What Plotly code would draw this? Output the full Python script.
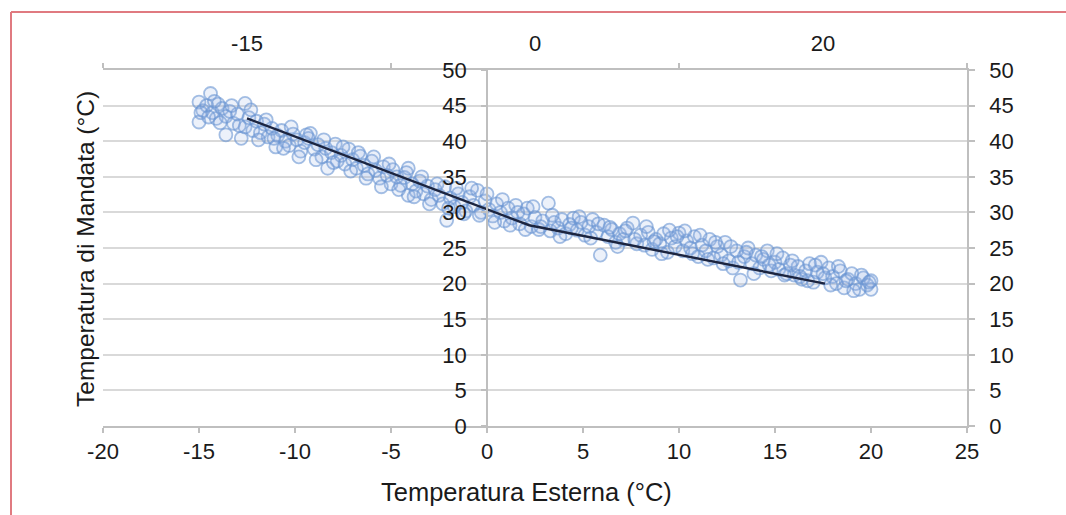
import plotly.graph_objects as go

# Scatter data (outdoor temperature vs supply temperature)
x_pts = [-15.0,-15.0,-14.8,-14.6,-14.4,-14.3,-14.1,-14.0,-13.8,-13.6,-13.6,-13.4,-13.2,-13.0,-12.8,-12.6,-12.6,-12.4,-12.2,
         -12.0,-11.8,-11.6,-11.4,-11.2,-11.0,-10.9,-10.7,-10.5,-10.3,-10.1,-9.9,-9.7,-9.5,-9.3,-9.2,-9.0,-8.8,-8.6,-8.4,-8.3,-8.1,-7.9,-7.8,
         -7.6,-7.4,-7.2,-7.0,-6.8,-6.6,-6.4,-6.2,-6.0,-5.8,-5.6,-5.4,-5.2,-5.0,-4.9,-4.7,-4.5,-4.3,-4.1,-4.1,-3.9,
         -3.7,-3.5,-3.3,-3.1,-2.9,-2.7,-2.5,-2.3,-2.2,-2.1,-1.9,-1.7,-1.5,-1.3,-1.1,-0.9,-0.7,-0.5,-0.3,-0.1,0.1,
         0.3,0.5,0.7,0.9,1.1,1.3,1.5,1.7,1.9,2.1,2.3,2.5,2.7,2.9,3.2,3.3,
         3.5,3.7,3.9,4.1,4.3,4.5,4.7,4.9,5.1,5.3,5.5,5.7,5.9,6.1,6.3,6.5,6.7,6.9,7.1,7.3,7.6,7.8,
         8.0,8.2,8.4,8.6,8.8,9.0,9.2,9.4,9.6,9.8,10.0,10.2,10.4,10.6,10.8,11.0,11.2,11.4,11.6,11.8,
         12.0,12.2,12.4,12.6,12.8,13.0,13.2,13.4,13.6,13.8,14.0,14.2,14.4,14.6,14.8,15.0,15.2,15.4,15.6,15.8,
         16.0,16.2,16.4,16.6,16.8,17.0,17.2,17.4,17.6,17.8,18.0,18.2,18.4,18.6,18.8,19.0,19.2,19.4,19.6,19.8,20.0,20.0,
         -14.9,-14.5,-14.2,-13.9,-13.3,-12.9,-12.3,-11.9,-11.5,-11.1,-10.6,-10.2,-9.8,-9.4,-8.9,-8.5,-8.0,-7.5,-7.1,-6.7,
         -6.3,-5.9,-5.5,-5.1,-4.6,-4.2,-3.8,-3.4,-3.0,-2.6,-2.0,-1.6,-1.2,-0.8,-0.4,0.0,0.4,0.8,1.2,1.6,
         2.0,2.4,2.8,3.4,3.8,4.4,4.8,5.4,5.8,6.4,6.8,7.2,7.7,8.3,8.7,9.1,9.5,9.9,10.3,10.7,
         11.1,11.5,11.9,12.3,12.7,13.1,13.5,13.9,14.3,14.7,15.1,15.5,15.9,16.3,16.7,17.1,17.5,17.9,18.3,18.7,
         19.1,19.5,19.9]
y_pts = [45.5,42.7,44.3,45.0,46.7,44.0,43.2,45.2,44.6,43.5,40.9,44.2,42.5,43.8,40.4,45.3,42.0,43.3,41.5,
         42.8,41.2,42.4,40.6,41.8,39.2,40.8,41.5,40.0,39.4,41.0,40.2,38.6,39.8,40.4,41.1,38.9,39.5,37.8,39.0,36.2,38.4,39.6,37.2,
         38.0,36.8,38.9,37.4,36.2,37.9,36.6,35.4,37.2,35.9,34.8,36.4,35.2,34.0,36.0,35.0,33.8,34.9,36.2,32.4,34.0,
         33.0,34.4,32.6,33.7,31.8,33.2,32.4,31.2,33.6,28.9,32.0,30.8,32.6,31.4,30.2,32.2,31.0,33.1,30.0,31.6,30.4,
         29.5,31.2,30.0,28.8,30.6,29.2,31.0,28.4,29.8,30.6,28.0,29.3,27.6,28.8,31.3,27.4,
         28.6,27.8,29.0,27.0,28.3,29.2,27.5,28.6,26.8,28.0,29.0,27.2,24.0,28.2,26.6,27.6,25.8,27.0,26.2,27.8,28.5,25.6,
         26.8,25.4,27.2,24.8,26.2,25.6,27.0,24.4,26.4,25.2,27.1,24.6,26.0,25.0,26.6,23.8,25.4,24.6,26.2,23.6,
         25.2,24.0,25.8,23.2,22.2,24.6,20.5,23.8,25.0,22.8,24.0,22.2,23.4,24.6,21.8,23.0,22.0,23.6,21.4,22.6,
         21.2,22.4,20.6,21.8,22.8,20.2,21.6,23.0,20.8,22.2,21.0,20.0,21.8,19.4,20.6,21.4,20.0,19.2,20.8,19.8,19.2,20.4,
         44.0,43.4,45.6,42.6,45.0,42.2,44.4,40.2,43.0,40.4,39.0,42.0,37.8,40.9,37.4,40.2,37.0,39.2,35.8,38.4,
         34.8,37.8,33.6,36.8,33.2,35.6,32.2,35.0,31.2,34.0,30.6,33.4,29.8,33.4,29.6,32.6,28.6,31.8,28.2,30.0,
         27.6,30.8,28.0,29.6,26.6,27.8,29.4,26.4,28.4,27.9,25.2,27.4,26.2,28.0,25.9,24.2,27.5,26.6,27.4,24.2,
         26.8,23.4,25.8,22.8,25.2,23.0,24.4,21.4,23.8,22.6,24.2,21.2,23.2,21.0,20.4,22.6,21.4,19.8,22.4,20.4,
         19.0,21.2,20.2]
assert len(x_pts) == len(y_pts)

# Piecewise trend line
line_x = [-12.5, 2.2, 17.6]
line_y = [43.2, 28.2, 20.0]

# Axis tick labels
x_ticks = [-20, -15, -10, -5, 0, 5, 10, 15, 20, 25]
x_ticktext = ["-20", "-15", "-10", "-5", "0", "5", "10", "15", "20", "25"]
top_cats = ["-15", "0", "20"]

FONT = "Liberation Sans, Arial, sans-serif"
TXT = "#1a1a1a"
AX = "#bfbfbf"
GRID = "#d9d9d9"

fig = go.Figure()
fig.add_trace(go.Scatter(x=x_pts, y=y_pts, mode="markers",
                         marker=dict(symbol="circle", size=13,
                                     color="rgba(150,180,225,0.18)",
                                     line=dict(width=1.8, color="rgba(105,148,210,0.6)")),
                         showlegend=False, hoverinfo="skip"))
fig.add_trace(go.Scatter(x=line_x, y=line_y, mode="lines",
                         line=dict(color="#1c2540", width=2.4),
                         showlegend=False, hoverinfo="skip"))
# invisible trace to establish the top category axis
fig.add_trace(go.Scatter(x=top_cats, y=[-10, -10, -10], xaxis="x2", yaxis="y",
                         mode="markers", marker=dict(opacity=0),
                         showlegend=False, hoverinfo="skip"))
# dummy for right axis
fig.add_trace(go.Scatter(x=[-30], y=[-10], yaxis="y2", mode="markers",
                         marker=dict(opacity=0), showlegend=False, hoverinfo="skip"))

tickfont = dict(family=FONT, size=22, color=TXT)

fig.update_layout(
    width=1066, height=515,
    margin=dict(l=103, r=99, t=70, b=89),
    paper_bgcolor="white", plot_bgcolor="white",
    font=dict(family=FONT, color=TXT),
    xaxis=dict(range=[-20, 25], tickvals=x_ticks, ticktext=x_ticktext,
               showgrid=False, zeroline=False,
               showline=True, linecolor=AX, linewidth=1.5,
               ticks="outside", ticklen=5, tickcolor=AX, tickwidth=1.5,
               tickfont=tickfont, ticklabelstandoff=0),
    xaxis2=dict(type="category", overlaying="x", side="top", anchor="y",
                range=[-0.5, 2.5], tickson="boundaries", showgrid=False,
                showline=True, linecolor=AX, linewidth=1.5,
                ticks="outside", ticklen=5, tickcolor=AX, tickwidth=1.5,
                tickfont=tickfont, ticklabelstandoff=8),
    yaxis=dict(range=[0, 50], dtick=5, showgrid=True, gridcolor=GRID, gridwidth=1.5,
               zeroline=False, anchor="free", position=20/45,
               showline=True, linecolor=AX, linewidth=1.5,
               ticks="outside", ticklen=5, tickcolor=AX, tickwidth=1.5,
               tickfont=tickfont, ticklabelstandoff=10),
    yaxis2=dict(range=[0, 50], dtick=5, overlaying="y", side="right", anchor="x",
                showgrid=False, zeroline=False,
                showline=True, linecolor=AX, linewidth=1.5,
                ticks="outside", ticklen=6, tickcolor=AX, tickwidth=1.5,
                tickfont=tickfont, ticklabelstandoff=10),
    annotations=[
        dict(text="Temperatura Esterna (°C)", xref="paper", yref="paper",
             x=0.49, y=(426-492)/356, xanchor="center", yanchor="middle",
             showarrow=False, font=dict(family=FONT, size=25.5, color=TXT)),
        dict(text="Temperatura di Mandata (°C)", xref="paper", yref="paper",
             x=(85-103)/864, y=(426-249)/356, xanchor="center", yanchor="middle",
             textangle=-90, showarrow=False, font=dict(family=FONT, size=24.5, color=TXT)),
    ],
    shapes=[
        dict(type="line", xref="paper", yref="paper",
             x0=(11-103)/864, x1=(1070-103)/864, y0=(426-12)/356, y1=(426-12)/356,
             line=dict(color="#e07a80", width=2)),
        dict(type="line", xref="paper", yref="paper",
             x0=(11-103)/864, x1=(11-103)/864, y0=(426-12)/356, y1=(426-520)/356,
             line=dict(color="#e07a80", width=2)),
    ],
)

fig.write_html("out.html", config={"displayModeBar": False},
               post_script="document.body.style.margin='0';document.body.style.overflow='hidden';")
